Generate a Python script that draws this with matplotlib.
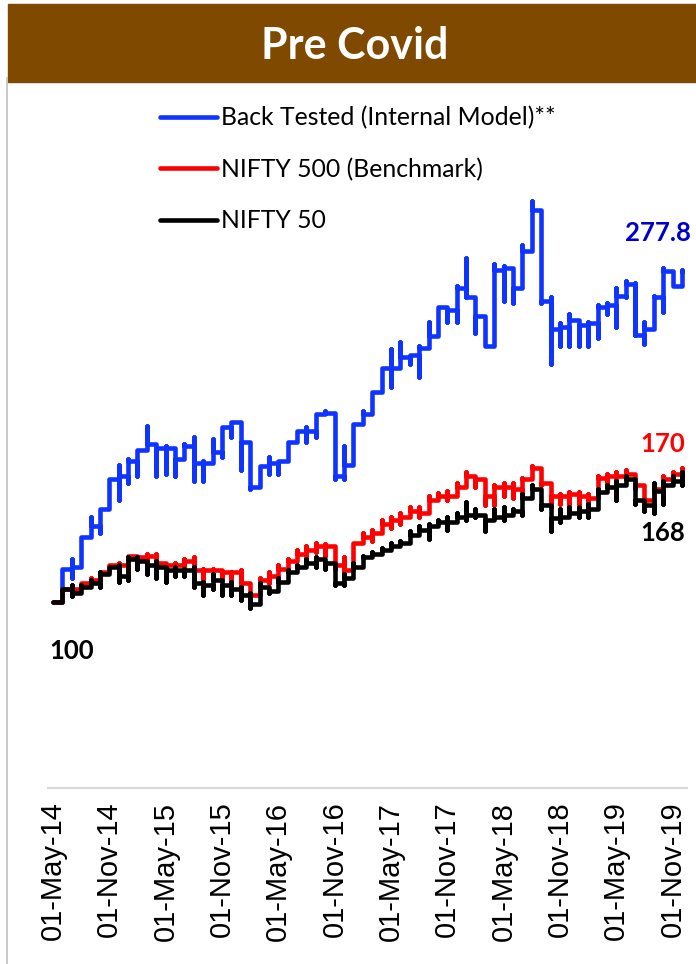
import numpy as np
import matplotlib
matplotlib.use('Agg')
import matplotlib.pyplot as plt
from matplotlib.patches import Rectangle
from matplotlib.lines import Line2D

# --- Data: monthly index levels (May-14 .. Dec-19), low / high / month-end ---
bt_lo = [100, 100, 113, 119, 137, 137, 151, 155, 164, 168, 184, 168, 169, 168, 177, 165, 165,
         175, 178, 189, 171, 161, 166, 169, 169, 176, 186, 186, 189, 201, 166, 166, 175, 196,
         201, 213, 216, 227, 228, 221, 237, 244, 251, 251, 264, 245, 238, 245, 262, 261, 269,
         290, 261, 228, 238, 238, 238, 238, 242, 255, 248, 264, 244, 239, 248, 256, 270, 270]
bt_hi = [100, 118, 123, 135, 146, 150, 166, 174, 177, 182, 195, 184, 184, 182, 185, 189, 176,
         188, 194, 197, 197, 186, 173, 178, 176, 186, 192, 194, 201, 203, 202, 184, 196, 203,
         213, 226, 236, 240, 233, 238, 251, 259, 259, 270, 285, 264, 254, 282, 281, 275, 292,
         316, 310, 264, 250, 255, 250, 251, 260, 261, 269, 273, 272, 251, 265, 280, 277, 279]
bt_cl = [100, 118, 119, 135, 141, 150, 166, 168, 176, 182, 185, 183, 183, 177, 184, 175, 175,
         181, 194, 197, 186, 162, 173, 175, 176, 186, 192, 192, 201, 202, 168, 174, 196, 201,
         213, 226, 226, 232, 233, 237, 243, 259, 257, 269, 264, 254, 238, 279, 280, 269, 289,
         311, 262, 247, 248, 252, 249, 250, 259, 260, 265, 271, 244, 247, 264, 278, 270, 277.8]

n500_lo = [100, 100, 105, 107, 110, 110, 117, 118, 115, 123, 118, 114, 118, 118, 117, 114, 111,
           114, 112, 112, 106, 101, 107, 110, 113, 117, 122, 124, 127, 125, 118, 116, 120, 133,
           133, 139, 140, 142, 146, 146, 150, 155, 155, 157, 162, 162, 152, 152, 157, 156, 157,
           166, 163, 151, 153, 153, 153, 153, 157, 164, 166, 166, 161, 152, 152, 161, 167, 167]
n500_hi = [100, 107, 108, 110, 113, 116, 120, 121, 125, 125, 126, 126, 121, 121, 123, 124, 118,
           118, 117, 116, 117, 110, 113, 116, 120, 123, 128, 130, 132, 131, 130, 124, 132, 137,
           139, 144, 146, 148, 151, 151, 157, 158.5, 160, 164, 170, 168, 160, 163, 164, 164, 167,
           173, 172, 160, 158, 159, 159, 158, 168, 169, 170, 171, 168, 157, 163, 168, 170, 172]
n500_cl = [100, 107, 107, 110, 112, 116, 120, 120, 125, 124, 125, 121, 120, 120, 122, 117, 117,
           117, 116, 116, 110, 104, 112, 114, 118, 122, 126, 128, 130, 130, 120, 117, 132, 135,
           137, 142, 144, 146, 149, 148, 155, 157, 157, 162, 168, 166, 157, 162, 162, 161, 166,
           172, 164, 157, 157, 158, 157, 156, 167, 168, 168, 169, 163, 155, 161, 166, 169, 170]

n50_lo = [100, 101, 103, 105, 108, 108, 115, 111, 112, 118, 115, 113, 111, 114, 114, 108, 104,
          107, 104, 104, 101, 96.6, 99, 105, 106, 111, 116, 119, 119, 118, 109, 109, 113, 119,
          124, 126, 128, 130, 132, 136, 134, 141, 139, 143, 144, 146, 138, 144, 144, 147, 147,
          156, 150, 138, 143, 146, 146, 146, 150, 159, 155, 163, 153, 149, 148, 153, 163, 163]
n50_hi = [100, 107, 109, 109, 112, 116, 119, 120, 124, 124, 122, 122, 118, 119, 118, 119, 111,
          115, 112, 111, 108, 105, 110, 108, 113, 117, 120, 123, 124, 123, 121, 115, 121, 125,
          127, 129, 132, 133, 138, 141, 142, 144, 146, 148, 154, 150, 147, 150, 151, 150, 158,
          163, 161, 152, 150, 151, 151, 153, 161, 163, 165, 168, 166, 155, 164, 165, 168, 170]
n50_cl = [100, 107, 105, 108, 110, 115, 119, 114, 123, 122, 120, 119, 117, 117, 117, 110, 109,
          112, 109, 107, 104, 99, 108, 106, 111, 116, 119, 121, 123, 121, 110, 113, 119, 124,
          126, 128, 130, 132, 136, 139, 141, 143, 143, 146, 147, 147, 144, 146, 147, 149, 156,
          161, 152, 145, 146, 148, 149, 150, 159, 162, 163, 166, 155, 152, 160, 163, 165, 168]

tick_pos = list(range(0, 67, 6))
tick_labels = ['01-May-14', '01-Nov-14', '01-May-15', '01-Nov-15', '01-May-16', '01-Nov-16',
               '01-May-17', '01-Nov-17', '01-May-18', '01-Nov-18', '01-May-19', '01-Nov-19']

series = [
    ('Back Tested (Internal Model)**', bt_lo, bt_hi, bt_cl, '#1034FF'),
    ('NIFTY 500 (Benchmark)', n500_lo, n500_hi, n500_cl, '#FF0000'),
    ('NIFTY 50', n50_lo, n50_hi, n50_cl, '#000000'),
]


def month_path(lo, hi, cl):
    # all daily points of a month sit on the same x, so each month is a vertical run
    xs, ys = [], []
    prev = lo[0]
    for i in range(len(cl)):
        xs += [i, i, i, i]
        ys += [prev, lo[i], hi[i], cl[i]]
        prev = cl[i]
    return xs, ys


W, H = 696, 964
fig = plt.figure(figsize=(W / 100, H / 100), dpi=100)

# --- Title bar and left border ---
fig.patches.append(Rectangle((8 / W, 1 - 82 / H), (W - 8) / W, 78 / H,
                             transform=fig.transFigure, color='#7F4A00', zorder=0))
fig.text(355 / W, 1 - 46 / H, 'Pre Covid', ha='center', va='center', color='white',
         fontsize=31, fontweight='bold', family='Lato')
fig.add_artist(Line2D([7 / W, 7 / W], [0, 1 - 78 / H], color='#BFBFBF', lw=1.2))

# --- Plot area ---
ax = fig.add_axes([48.3 / W, 1 - 787.7 / H, 638.4 / W, 650 / H])
handles = []
for name, lo, hi, cl, col in series:
    xs, ys = month_path(lo, hi, cl)
    h, = ax.plot(xs, ys, color=col, lw=3.3, solid_joinstyle='round',
                 solid_capstyle='round', label=name)
    handles.append(h)

ax.set_xlim(-0.5, 67.5)
ax.set_ylim(0, 350)
ax.set_yticks([])
ax.set_xticks(tick_pos)
ax.set_xticklabels(tick_labels, rotation=90, fontsize=21, family='Liberation Sans')
ax.tick_params(axis='x', length=0, pad=10)
for s in ['top', 'right', 'left']:
    ax.spines[s].set_visible(False)
ax.spines['bottom'].set_color('#D9D9D9')
ax.spines['bottom'].set_linewidth(1.5)

# --- End / start value labels ---
last = len(bt_cl) - 1
lab = dict(textcoords='offset pixels', ha='center', va='center', fontsize=18.5,
           fontweight='bold', family='Lato')
ax.annotate(f'{bt_cl[-1]:.1f}', (last, bt_cl[-1]), xytext=(-24, 39), color='#0000CC', **lab)
ax.annotate(f'{n500_cl[-1]:.0f}', (last, n500_cl[-1]), xytext=(-19, 28), color='#FF0000', **lab)
ax.annotate(f'{n50_cl[-1]:.0f}', (last, n50_cl[-1]), xytext=(-19, -57), color='#000000', **lab)
ax.annotate(f'{n50_cl[0]:.0f}', (0, n50_cl[0]), xytext=(19, -49), color='#000000', **lab)

# --- Legend ---
ax.legend(handles=handles, loc='upper left', bbox_to_anchor=(160 / W, 1 - 106 / H),
          bbox_transform=fig.transFigure, frameon=False, prop={'family': 'Lato', 'size': 17.8},
          handlelength=2.3, handletextpad=0.15, labelspacing=1.15, borderpad=0, borderaxespad=0)

fig.savefig('out.png', dpi=100)
